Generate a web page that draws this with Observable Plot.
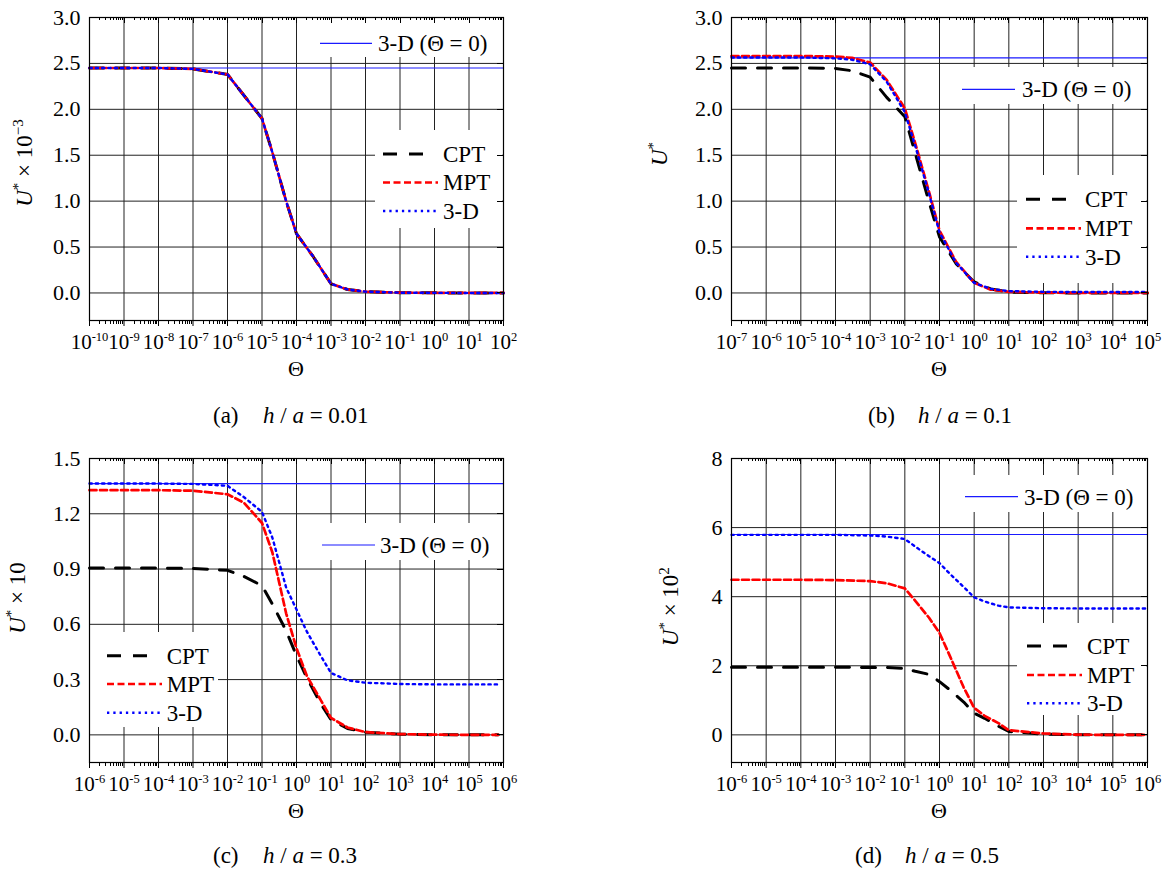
<!DOCTYPE html>
<html><head><meta charset="utf-8">
<script src="https://cdn.jsdelivr.net/npm/d3@7"></script>
<script src="https://cdn.jsdelivr.net/npm/@observablehq/plot@0.6"></script>
<style>
body{margin:0;background:#fff;}
#root{position:relative;width:1168px;height:870px;background:#fff;overflow:hidden;font-family:'Liberation Serif', serif;}
.panel{position:absolute;}
.panel svg{overflow:visible;}
#over{position:absolute;left:0;top:0;pointer-events:none;}
</style></head><body><div id="root"></div>
<script>
const FONT = "'Liberation Serif', serif";

// ---------------- data ----------------
// (a) h / a = 0.01
const expA   = [-10,-9,-8,-7,-6,-5,-4,-3,-2,-1,0,1,2];
const yTicksA = [0,0.5,1.0,1.5,2.0,2.5,3.0];
const thetaA = [1e-10,1e-9,1e-8,1e-7,1e-6,1e-5,2e-5,5e-5,1e-4,3e-4,1e-3,3e-3,1e-2,1e-1,1,10,100];
const cptA   = [2.45,2.45,2.45,2.44,2.38,1.90,1.53,1.00,0.645,0.40,0.10,0.038,0.014,0.003,0.001,0,0];
const mptA   = [2.45,2.45,2.45,2.44,2.38,1.90,1.53,1.00,0.645,0.40,0.10,0.038,0.014,0.003,0.001,0,0];
const d3dA   = [2.45,2.45,2.45,2.44,2.38,1.90,1.53,1.00,0.645,0.40,0.10,0.038,0.014,0.003,0.001,0,0];
const refA   = 2.45;

// (b) h / a = 0.1
const expB   = [-7,-6,-5,-4,-3,-2,-1,0,1,2,3,4,5];
const yTicksB = [0,0.5,1.0,1.5,2.0,2.5,3.0];
const thetaB = [1e-7,1e-6,1e-5,1e-4,3e-4,1e-3,3e-3,1e-2,2e-2,5e-2,1e-1,3e-1,1,3,10,100,1e3,1e4,1e5];
const cptB   = [2.45,2.45,2.45,2.445,2.42,2.35,2.13,1.92,1.52,0.99,0.61,0.32,0.12,0.044,0.01,0.002,0,0,0];
const mptB   = [2.58,2.58,2.58,2.575,2.56,2.51,2.32,2.01,1.63,1.10,0.68,0.34,0.11,0.036,0.012,0.004,0,0,0];
const d3dB   = [2.565,2.565,2.565,2.555,2.54,2.49,2.30,1.97,1.60,1.08,0.66,0.33,0.11,0.045,0.02,0.012,0.01,0.01,0.01];
const refB   = 2.56;

// (c) h / a = 0.3
const expC   = [-6,-5,-4,-3,-2,-1,0,1,2,3,4,5,6];
const yTicksC = [0,0.3,0.6,0.9,1.2,1.5];
const thetaC = [1e-6,1e-5,1e-4,1e-3,1e-2,3e-2,1e-1,2e-1,5e-1,1,2,5,10,30,100,1e3,1e4,1e5,7e5];
const cptC   = [0.905,0.905,0.905,0.903,0.893,0.86,0.81,0.71,0.565,0.43,0.31,0.17,0.082,0.035,0.014,0.004,0.001,0,0];
const mptC   = [1.328,1.328,1.328,1.325,1.306,1.26,1.15,0.99,0.66,0.47,0.32,0.19,0.092,0.04,0.015,0.004,0.001,0,0];
const d3dC   = [1.364,1.364,1.364,1.362,1.352,1.29,1.21,1.07,0.80,0.68,0.56,0.43,0.336,0.296,0.283,0.276,0.274,0.274,0.274];
const refC   = 1.364;

// (d) h / a = 0.5
const expD   = [-6,-5,-4,-3,-2,-1,0,1,2,3,4,5,6];
const yTicksD = [0,2,4,6,8];
const thetaD = [1e-6,1e-5,1e-4,1e-3,1e-2,3e-2,1e-1,2e-1,5e-1,1,2,5,10,20,50,100,1e3,1e4,1e5,1e6];
const cptD   = [1.96,1.96,1.96,1.96,1.95,1.95,1.92,1.84,1.75,1.54,1.30,0.95,0.63,0.48,0.25,0.10,0.02,0.003,0,0];
const mptD   = [4.49,4.49,4.49,4.48,4.45,4.39,4.24,3.88,3.39,2.95,2.28,1.37,0.78,0.55,0.34,0.135,0.04,0.005,0,0];
const d3dD   = [5.79,5.79,5.79,5.79,5.77,5.74,5.67,5.45,5.17,4.97,4.66,4.28,3.98,3.86,3.74,3.69,3.665,3.66,3.66,3.66];
const refD   = 5.8;

const seriesNames = ["CPT","MPT","3-D"];
const refName = "3-D (\u0398 = 0)";

// ---------------- styles ----------------
const STY = {
  CPT: {stroke:"#000", strokeWidth:3, dash:"14,12", legLen:41},
  MPT: {stroke:"#ff0000", strokeWidth:2.7, dash:"7,3.5", legLen:55},
  "3-D": {stroke:"#0000ff", strokeWidth:2.4, dash:"2.3,4", legLen:54},
  ref: {stroke:"#1a1aff", strokeWidth:1.2}
};
const GRID = "#222";

const panels = [
  {id:"a", left:0, top:0, ml:89, mr:81, mt:17, mb:65, exps:expA, yTicks:yTicksA, yDomain:[-0.3,3.0], yFmt:".1f",
   theta:thetaA, vals:[cptA,mptA,d3dA], ref:refA,
   ylab:{x:31.5, y:163, parts:[["U","i"],["*","s"],[" \u00d7 10",""],["\u22123","s"]]},
   refLeg:{box:[312,17,502,57], lx:[320,372], ly:43.3, tx:378},
   leg:{box:[375,130,502,228], lx0:383, rows:[154,182.5,211], tx:443},
   cap:{x:213, y:423, a:"(a)", b:"0.01"}},
  {id:"b", left:584, top:0, ml:147, mr:21, mt:17, mb:65, exps:expB, yTicks:yTicksB, yDomain:[-0.3,3.0], yFmt:".1f",
   theta:thetaB, vals:[cptB,mptB,d3dB], ref:refB,
   ylab:{x:82.5, y:154, parts:[["U","i"],["*","s"]]},
   refLeg:{box:[371,67,562,104], lx:[378,431], ly:89.3, tx:438},
   leg:{box:[433,175,562,283], lx0:442, rows:[199.3,228.3,256.7], tx:501},
   cap:{x:868, y:423, a:"(b)", b:"0.1"}},
  {id:"c", left:0, top:440, ml:89, mr:81, mt:18, mb:63, exps:expC, yTicks:yTicksC, yDomain:[-0.15,1.5], yFmt:".1f",
   theta:thetaC, vals:[cptC,mptC,d3dC], ref:refC,
   ylab:{x:25, y:158, parts:[["U","i"],["*","s"],[" \u00d7 10",""]]},
   refLeg:{box:[315,83,502,120], lx:[322,375], ly:105, tx:380},
   leg:{box:[90,192,218,287], lx0:107, rows:[215.7,244,272.7], tx:166.7},
   cap:{x:213, y:862.5, a:"(c)", b:"0.3"}},
  {id:"d", left:584, top:440, ml:147, mr:21, mt:18, mb:63, exps:expD, yTicks:yTicksD, yDomain:[-0.8,8], yFmt:"d",
   theta:thetaD, vals:[cptD,mptD,d3dD], ref:refD,
   ylab:{x:94, y:166.7, parts:[["U","i"],["*","s"],[" \u00d7 10",""],["2","s"]]},
   refLeg:{box:[371,35,562,72], lx:[381,434], ly:56.7, tx:440},
   leg:{box:[433,183,562,275], lx0:443, rows:[206,235,263.3], tx:503},
   cap:{x:855, y:862.5, a:"(d)", b:"0.5"}}
];

const W = 584, H = 385;
const root = document.getElementById("root");

function drawPanel(P) {
  const ticksX = P.exps.map(e => Math.pow(10, e));
  const minor = [];
  P.exps.slice(0, -1).forEach(e => { for (let k = 2; k <= 9; k++) minor.push(k * Math.pow(10, e)); });

  const lineMarks = seriesNames.map((name, i) =>
    Plot.line(P.vals[i], {x: P.theta, y: P.vals[i], stroke: STY[name].stroke,
      strokeWidth: STY[name].strokeWidth, strokeDasharray: STY[name].dash, strokeLinejoin: "round"}));

  const svg = Plot.plot({
    width: W, height: H,
    marginLeft: P.ml, marginRight: P.mr, marginTop: P.mt, marginBottom: P.mb,
    style: {fontFamily: FONT, fontSize: "22px", color: "#000", background: "transparent", overflow: "visible"},
    x: {type: "log", domain: [ticksX[0], ticksX[ticksX.length - 1]], ticks: ticksX,
        tickFormat: d => "E" + Math.round(Math.log10(d)), tickSize: 6, tickPadding: 8, label: null},
    y: {domain: P.yDomain, ticks: P.yTicks, tickFormat: d3.format(P.yFmt), tickSize: 0, tickPadding: 9, label: null},
    marks: [
      Plot.ruleX(ticksX, {stroke: GRID, strokeWidth: 1}),
      Plot.ruleY(P.yTicks, {stroke: GRID, strokeWidth: 1}),
      Plot.ruleY([P.ref], {stroke: STY.ref.stroke, strokeWidth: STY.ref.strokeWidth}),
      ...lineMarks,
      Plot.frame({stroke: "#000", strokeWidth: 1.2})
    ]
  });

  const S = d3.select(svg);
  // "10" with a raised exponent on the x tick labels
  S.selectAll("text").each(function () {
    const m = /^E(-?\d+)$/.exec(this.textContent);
    if (!m) return;
    const t = d3.select(this).attr("font-size", 21);
    t.text(null);
    t.append("tspan").text("10");
    t.append("tspan").attr("font-size", 12.5).attr("dy", -8).text(m[1]);
  });

  const sx = svg.scale("x"), sy = svg.scale("y");
  const x0 = P.ml, x1 = W - P.mr, y0 = P.mt, y1 = H - P.mb;

  // legends: over the grid, under the curves
  const lg = d3.create("svg:g").attr("font-family", FONT).attr("font-size", 23).attr("fill", "#000").attr("text-anchor", "start");
  const rb = P.refLeg.box;
  lg.append("rect").attr("x", rb[0]).attr("y", rb[1]).attr("width", rb[2] - rb[0]).attr("height", rb[3] - rb[1]).attr("fill", "#fff");
  lg.append("line").attr("x1", P.refLeg.lx[0]).attr("x2", P.refLeg.lx[1]).attr("y1", P.refLeg.ly).attr("y2", P.refLeg.ly)
    .attr("stroke", STY.ref.stroke).attr("stroke-width", STY.ref.strokeWidth);
  lg.append("text").attr("x", P.refLeg.tx).attr("y", P.refLeg.ly + 7.8).attr("text-anchor", "start").text(refName);
  const mb = P.leg.box;
  lg.append("rect").attr("x", mb[0]).attr("y", mb[1]).attr("width", mb[2] - mb[0]).attr("height", mb[3] - mb[1]).attr("fill", "#fff");
  seriesNames.forEach((name, i) => {
    const yy = P.leg.rows[i];
    lg.append("line").attr("x1", P.leg.lx0).attr("x2", P.leg.lx0 + STY[name].legLen).attr("y1", yy).attr("y2", yy)
      .attr("stroke", STY[name].stroke).attr("stroke-width", STY[name].strokeWidth).attr("stroke-dasharray", STY[name].dash);
    lg.append("text").attr("x", P.leg.tx).attr("y", yy + 7.8).attr("text-anchor", "start").text(name);
  });
  const rules = svg.querySelectorAll('g[aria-label="rule"]');
  if (rules.length >= 2) rules[1].parentNode.insertBefore(lg.node(), rules[1].nextSibling);
  else svg.appendChild(lg.node());

  // minor ticks and inward ticks on top / right
  const tk = S.append("g").attr("stroke", "#000").attr("stroke-width", 1).attr("fill", "none");
  const px = v => Math.round(sx.apply(v)) + 0.5;
  const py = v => Math.round(sy.apply(v)) + 0.5;
  minor.forEach(v => {
    tk.append("line").attr("x1", px(v)).attr("x2", px(v)).attr("y1", y1).attr("y2", y1 + 4);
    tk.append("line").attr("x1", px(v)).attr("x2", px(v)).attr("y1", y0).attr("y2", y0 + 3);
  });
  ticksX.forEach(v => tk.append("line").attr("x1", px(v)).attr("x2", px(v)).attr("y1", y0).attr("y2", y0 + 6));
  P.yTicks.forEach(v => tk.append("line").attr("x1", x1 - 6).attr("x2", x1).attr("y1", py(v)).attr("y2", py(v)));

  // axis titles
  S.append("text").attr("x", (x0 + x1) / 2).attr("y", y1 + 55.5).attr("text-anchor", "middle")
    .attr("font-family", FONT).attr("font-size", 22).attr("fill", "#000").text("\u0398");
  const yl = S.append("text").attr("transform", `translate(${P.ylab.x},${P.ylab.y}) rotate(-90)`)
    .attr("text-anchor", "middle").attr("font-family", FONT).attr("font-size", 23).attr("fill", "#000");
  let cur = 0;
  P.ylab.parts.forEach(([s, f]) => {
    const ts = yl.append("tspan").text(s);
    const target = f === "s" ? -9 : 0;
    if (target - cur !== 0) ts.attr("dy", target - cur);
    cur = target;
    if (f === "s") ts.attr("font-size", 15);
    if (f === "i") ts.attr("font-style", "italic");
  });

  const div = document.createElement("div");
  div.className = "panel";
  div.style.left = P.left + "px";
  div.style.top = P.top + "px";
  div.appendChild(svg);
  root.appendChild(div);
}

panels.forEach(drawPanel);

// sub-figure captions
const over = d3.select(root).append("svg").attr("id", "over").attr("width", 1168).attr("height", 870)
  .attr("font-family", FONT).attr("font-size", 23).attr("fill", "#000");
panels.forEach(P => {
  const t = over.append("text").attr("x", P.cap.x).attr("y", P.cap.y).attr("text-anchor", "start").style("white-space", "pre");
  t.append("tspan").text(P.cap.a);
  t.append("tspan").attr("x", P.cap.x + 50).attr("font-style", "italic").text("h");
  t.append("tspan").text(" / ");
  t.append("tspan").attr("font-style", "italic").text("a");
  t.append("tspan").text(" = " + P.cap.b);
});
</script></body></html>
